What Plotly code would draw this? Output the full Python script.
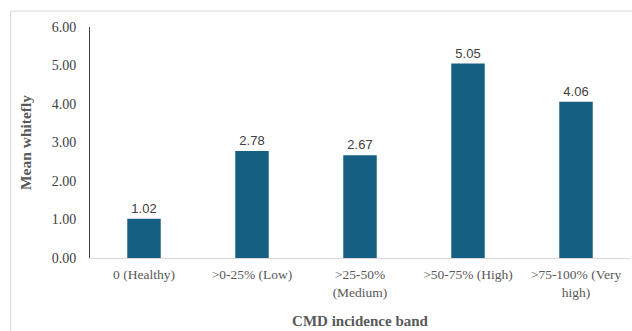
import plotly.graph_objects as go

# Mean whitefly counts per CMD incidence band
bands = ["0 (Healthy)", ">0-25% (Low)", ">25-50%<br>(Medium)", ">50-75% (High)", ">75-100% (Very<br>high)"]
mean_whitefly = [1.02, 2.78, 2.67, 5.05, 4.06]
y_ticks = [0, 1, 2, 3, 4, 5, 6]
y_tick_text = ["0.00", "1.00", "2.00", "3.00", "4.00", "5.00", "6.00"]

serif = "Liberation Serif, Times New Roman, serif"
sans = "Liberation Sans, Arial, sans-serif"

fig = go.Figure(
    go.Bar(
        x=bands,
        y=mean_whitefly,
        marker=dict(color="#156082", line=dict(width=0)),
        width=0.31,
        text=[f"{v:.2f}" for v in mean_whitefly],
        textposition="outside",
        textfont=dict(family=sans, size=13, color="#404040"),
        cliponaxis=False,
    )
)

fig.update_layout(
    width=632,
    height=331,
    margin=dict(l=90, r=2, t=27, b=73),
    paper_bgcolor="white",
    plot_bgcolor="white",
    showlegend=False,
    bargap=0.69,
    xaxis=dict(
        showline=True,
        linecolor="#d9d9d9",
        linewidth=1,
        showgrid=False,
        tickfont=dict(family=serif, size=13.5, color="#595959"),
        ticklabelstandoff=4,
        title=dict(
            text="<b>CMD incidence band</b>",
            font=dict(family=serif, size=15, color="#595959"),
            standoff=16,
        ),
    ),
    yaxis=dict(
        range=[0, 6],
        tickvals=y_ticks,
        ticktext=y_tick_text,
        showline=True,
        linecolor="#404040",
        linewidth=1,
        showgrid=False,
        zeroline=False,
        tickfont=dict(family=serif, size=14, color="#404040"),
        ticklabelstandoff=10,
        title=dict(
            text="<b>Mean whitefly</b>",
            font=dict(family=serif, size=15.5, color="#595959"),
            standoff=16,
        ),
    ),
    shapes=[
        dict(
            type="rect",
            xref="paper",
            yref="paper",
            x0=-0.147,
            x1=1.05,
            y0=-0.5,
            y1=1.069,
            line=dict(color="#d9d9d9", width=1),
            fillcolor="rgba(0,0,0,0)",
            layer="below",
        )
    ],
)

fig.write_html("out.html")
